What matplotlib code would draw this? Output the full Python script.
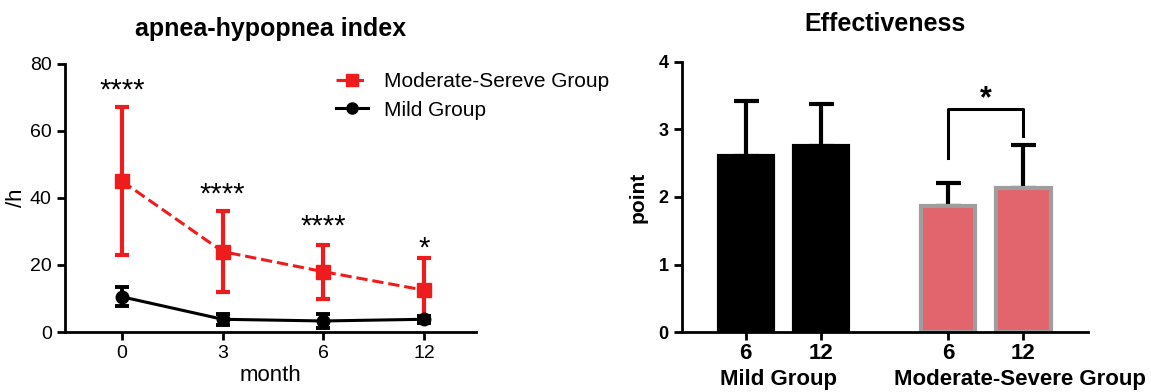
import matplotlib.pyplot as plt
import numpy as np
from matplotlib.lines import Line2D

plt.rcParams['font.family'] = ['Liberation Sans', 'DejaVu Sans']

# left panel: apnea-hypopnea index
months = ['0', '3', '6', '12']
ms_mean = [45, 24, 18, 12.5]
ms_err = [22, 12, 8, 9.5]
mild_mean = [10.5, 3.8, 3.3, 3.8]
mild_err = [2.8, 1.6, 2.0, 1.0]
stars = ['****', '****', '****', '*']
star_y = [72, 41, 31.5, 25]

# right panel: effectiveness
bar_labels = ['6', '12', '6', '12']
bar_mean = [2.61, 2.76, 1.86, 2.13]
bar_err = [0.81, 0.62, 0.35, 0.64]
group_names = ['Mild Group', 'Moderate-Severe Group']

fig = plt.figure(figsize=(11.51, 3.92), dpi=100)

ax = fig.add_axes([0.0565, 0.153, 0.357, 0.684])
x = np.arange(len(months))
red = '#ee1c1c'
ax.errorbar(x, ms_mean, yerr=ms_err, color=red, ls='--', lw=2.2, marker='s', ms=10,
            elinewidth=3, capsize=5, capthick=3, zorder=3)
ax.errorbar(x, mild_mean, yerr=mild_err, color='black', ls='-', lw=2.2, marker='o', ms=9,
            elinewidth=2.8, capsize=5, capthick=2.8, zorder=4)
for xi, s, sy in zip(x, stars, star_y):
    ax.text(xi, sy, s, ha='center', va='center', fontsize=21)
ax.set_xlim(-0.566, 3.515)
ax.set_ylim(0, 80)
ax.set_yticks([0, 20, 40, 60, 80])
ax.set_xticks(x)
ax.set_xticklabels(months)
ax.tick_params(labelsize=14, width=2, length=6)
for sp in ['top', 'right']:
    ax.spines[sp].set_visible(False)
for sp in ['left', 'bottom']:
    ax.spines[sp].set_linewidth(2)
ax.set_xlabel('month', fontsize=16, labelpad=2)
ax.set_ylabel('/h', fontsize=16, labelpad=2)
ax.set_title('apnea-hypopnea index', fontsize=18, fontweight='bold', pad=20)
handles = [Line2D([], [], color=red, ls='--', lw=2.2, marker='s', ms=9),
           Line2D([], [], color='black', ls='-', lw=2.2, marker='o', ms=8)]
ax.legend(handles, ['Moderate-Sereve Group', 'Mild Group'], loc='upper left',
          bbox_to_anchor=(0.64, 1.0), frameon=False, fontsize=15,
          handlelength=1.5, labelspacing=0.45, handletextpad=0.8, borderaxespad=0)

# right panel
ax2 = fig.add_axes([0.5925, 0.153, 0.3528, 0.689])
pos = np.array([0, 1, 2.7, 3.7])
colors = ['black', 'black', '#e2646c', '#e2646c']
edges = ['black', 'black', '#9e9e9e', '#9e9e9e']
ax2.bar(pos, bar_mean, width=0.72, color=colors, edgecolor=edges, linewidth=3, zorder=2)
ax2.errorbar(pos, bar_mean, yerr=[np.zeros(4), bar_err], fmt='none', ecolor='black',
             elinewidth=3, capsize=9, capthick=3, zorder=1)
# significance bracket
ax2.plot([pos[2], pos[2], pos[3], pos[3]], [2.58, 3.3, 3.3, 2.9], color='black', lw=2.2)
ax2.text((pos[2] + pos[3]) / 2, 3.45, '*', ha='center', va='center', fontsize=22, fontweight='bold')
ax2.set_xlim(-0.85, 4.56)
ax2.set_ylim(0, 4)
ax2.set_yticks([0, 1, 2, 3, 4])
ax2.set_xticks(pos)
ax2.set_xticklabels(bar_labels, fontsize=16, fontweight='bold')
for lab in ax2.get_yticklabels():
    lab.set_fontweight('bold')
ax2.tick_params(axis='y', labelsize=13, width=2, length=6)
ax2.tick_params(axis='x', width=2, length=6, pad=2)
for sp in ['top', 'right']:
    ax2.spines[sp].set_visible(False)
for sp in ['left', 'bottom']:
    ax2.spines[sp].set_linewidth(2)
ax2.set_ylabel('point', fontsize=15, fontweight='bold', labelpad=8)
ax2.set_title('Effectiveness', fontsize=18, fontweight='bold', pad=22)
tr = ax2.get_xaxis_transform()
ax2.text(0.44, -0.175, group_names[0], transform=tr, ha='center', va='center',
         fontsize=16, fontweight='bold')
ax2.text(3.65, -0.175, group_names[1], transform=tr, ha='center', va='center',
         fontsize=16, fontweight='bold')

fig.savefig('out.png', dpi=100)
